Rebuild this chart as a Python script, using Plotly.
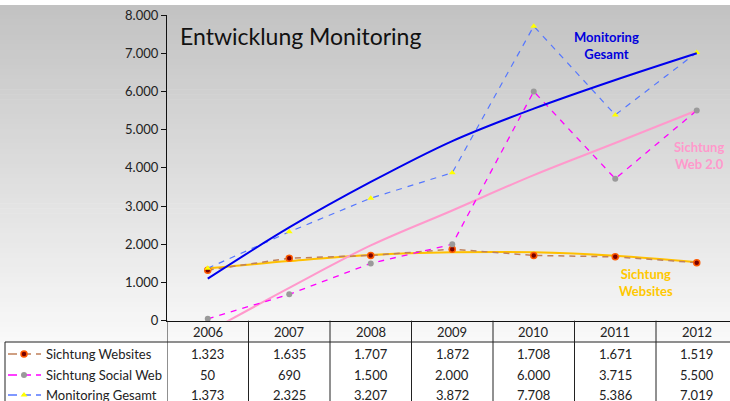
import plotly.graph_objects as go

W, H = 730, 401

years = ['2006', '2007', '2008', '2009', '2010', '2011', '2012']
series_names = ['Sichtung Websites', 'Sichtung Social Web', 'Monitoring Gesamt']
websites = [1323, 1635, 1707, 1872, 1708, 1671, 1519]
social_web = [50, 690, 1500, 2000, 6000, 3715, 5500]
gesamt = [1373, 2325, 3207, 3872, 7708, 5386, 7019]

# trend lines
trend_gesamt = [1100, 2440, 3630, 4700, 5550, 6300, 7000]
trend_social = [-300, 860, 1970, 2885, 3810, 4650, 5500]
trend_websites = [1370, 1560, 1720, 1790, 1790, 1700, 1530]

y_ticks = [0, 1000, 2000, 3000, 4000, 5000, 6000, 7000, 8000]


def px_y(p):
    return 1 - p / H


def px_x(p):
    return p / W


def fmt(v):
    return f"{v:,}".replace(',', '.')


FONT = 'Lato'

mk_web = dict(symbol='circle', size=6, color='#7a0000', line=dict(color='#ff5a00', width=1.5))
mk_soc = dict(symbol='circle', size=6, color='#9a9a9a', line=dict(color='#9a9a9a', width=0))
mk_ges = dict(symbol='triangle-up', size=6, color='#ffff00', line=dict(color='#ffff00', width=0))
ln_web = dict(color='#c0805a', width=1.5, dash='6px,5px')
ln_soc = dict(color='#ff00ff', width=1.3, dash='6px,6px')
ln_ges = dict(color='#5577ff', width=1.2, dash='6px,6px')

fig = go.Figure()

fig.add_trace(go.Scatter(x=years, y=trend_websites, mode='lines', line=dict(color='#ffc000', width=2, shape='spline'),
                         hoverinfo='skip', showlegend=False))
fig.add_trace(go.Scatter(x=years, y=trend_social, mode='lines', line=dict(color='#ff99cc', width=2, shape='spline'),
                         hoverinfo='skip', showlegend=False))

fig.add_trace(go.Scatter(x=years, y=websites, mode='lines+markers', line=ln_web, marker=mk_web,
                         name=series_names[0], showlegend=False, cliponaxis=False))
fig.add_trace(go.Scatter(x=years, y=social_web, mode='lines+markers', line=ln_soc, marker=mk_soc,
                         name=series_names[1], showlegend=False, cliponaxis=False))
fig.add_trace(go.Scatter(x=years, y=gesamt, mode='lines+markers', line=ln_ges, marker=mk_ges,
                         name=series_names[2], showlegend=False, cliponaxis=False))
fig.add_trace(go.Scatter(x=years, y=trend_gesamt, mode='lines', line=dict(color='#0000ee', width=2, shape='spline'),
                         hoverinfo='skip', showlegend=False))

row_y = [354, 375, 395]
for ry, ln, mk in zip(row_y, [ln_web, ln_soc, ln_ges], [mk_web, mk_soc, mk_ges]):
    fig.add_trace(go.Scatter(x=[8, 41], y=[ry, ry], mode='lines', line=dict(color=ln['color'], width=1.5, dash='9px,5px'),
                             xaxis='x2', yaxis='y2', showlegend=False, hoverinfo='skip'))
    fig.add_trace(go.Scatter(x=[24], y=[ry], mode='markers', marker=mk,
                             xaxis='x2', yaxis='y2', showlegend=False, hoverinfo='skip', cliponaxis=False))

shapes = []
top, bot = 5, 342
n = 68
c0, c1 = 194, 249
for i in range(n):
    y0 = top + (bot - top) * i / n
    y1 = top + (bot - top) * (i + 1) / n
    c = round(c0 + (c1 - c0) * (i + 0.5) / n)
    shapes.append(dict(type='rect', xref='paper', yref='paper', x0=0, x1=1, y0=px_y(y1 + 0.6), y1=px_y(y0),
                       fillcolor=f'rgb({c},{c},{c})', line=dict(width=0), layer='below'))

LC = '#222222'
shapes.append(dict(type='line', xref='paper', yref='paper', x0=px_x(5), x1=1, y0=px_y(342), y1=px_y(342),
                   line=dict(color=LC, width=1)))
shapes.append(dict(type='line', xref='paper', yref='paper', x0=px_x(5), x1=px_x(5), y0=px_y(342), y1=0,
                   line=dict(color=LC, width=1)))
for k in range(len(years)):
    shapes.append(dict(type='line', xref='x', yref='paper', x0=k - 0.5, x1=k - 0.5, y0=px_y(320.7), y1=0,
                       line=dict(color=LC, width=1)))

annotations = []
annotations.append(dict(text='Entwicklung Monitoring', xref='paper', yref='paper', x=px_x(178), y=px_y(36),
                        xanchor='left', yanchor='middle', showarrow=False,
                        font=dict(family=FONT, size=23, color='#111111')))
annotations.append(dict(text='<b>Monitoring<br>Gesamt</b>', xref='paper', yref='paper', x=px_x(606), y=px_y(46),
                        xanchor='center', yanchor='middle', showarrow=False,
                        font=dict(family=FONT, size=13, color='#0000dd')))
annotations.append(dict(text='<b>Sichtung<br>Web 2.0</b>', xref='paper', yref='paper', x=px_x(699), y=px_y(155),
                        xanchor='center', yanchor='middle', showarrow=False,
                        font=dict(family=FONT, size=13, color='#ff99cc')))
annotations.append(dict(text='<b>Sichtung<br>Websites</b>', xref='paper', yref='paper', x=px_x(646), y=px_y(282),
                        xanchor='center', yanchor='middle', showarrow=False,
                        font=dict(family=FONT, size=13, color='#ffc800')))

for k, yr in enumerate(years):
    annotations.append(dict(text=yr, xref='x', yref='paper', x=k, y=px_y(332), xanchor='center', yanchor='middle',
                            showarrow=False, font=dict(family=FONT, size=13, color='#222222')))
for ry, name, vals in zip(row_y, series_names, [websites, social_web, gesamt]):
    annotations.append(dict(text=name, xref='paper', yref='paper', x=px_x(44), y=px_y(ry), xanchor='left',
                            yanchor='middle', showarrow=False, font=dict(family=FONT, size=13, color='#222222')))
    for k, v in enumerate(vals):
        annotations.append(dict(text=fmt(v), xref='x', yref='paper', x=k, y=px_y(ry), xanchor='center',
                                yanchor='middle', showarrow=False, font=dict(family=FONT, size=13, color='#222222')))

x_left = 167
x_right_val = (W - x_left) / 81.5 - 0.5

fig.update_layout(
    width=W, height=H, autosize=False,
    margin=dict(l=0, r=0, t=0, b=0, pad=0),
    paper_bgcolor='white',
    plot_bgcolor='rgba(0,0,0,0)',
    separators=',.',
    showlegend=False,
    shapes=shapes,
    annotations=annotations,
    xaxis=dict(domain=[px_x(x_left), 1], range=[-0.5, x_right_val], type='category', automargin=False,
               showticklabels=False, ticks='', showgrid=False, zeroline=False,
               showline=True, linecolor='#111111', linewidth=1.2),
    yaxis=dict(domain=[px_y(320.7), px_y(15)], range=[0, 8000], tickvals=y_ticks, tickformat=',d', automargin=False,
               ticks='outside', ticklen=5, tickcolor='#111111', showgrid=False, zeroline=False,
               showline=True, linecolor='#111111', linewidth=1.2,
               tickfont=dict(family=FONT, size=13, color='#222222')),
    xaxis2=dict(domain=[0, 1], range=[0, W], visible=False, anchor='y2', fixedrange=True, automargin=False),
    yaxis2=dict(domain=[0, 1], range=[H, 0], visible=False, anchor='x2', fixedrange=True, automargin=False),
)

fig.write_html('out.html', config={'displayModeBar': False, 'responsive': False},
               post_script="document.body.style.margin='0';document.body.style.overflow='hidden';"
                           "document.documentElement.style.overflow='hidden';")
